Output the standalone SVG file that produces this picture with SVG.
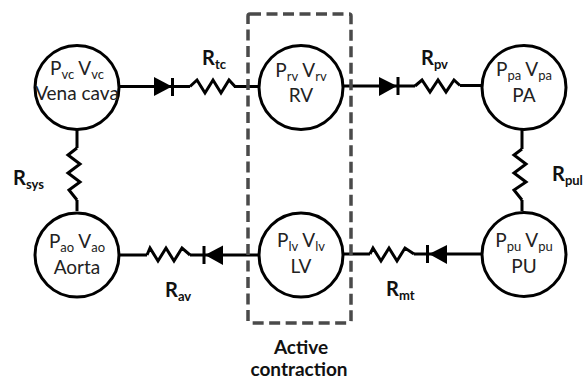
<svg xmlns="http://www.w3.org/2000/svg" width="585" height="381" viewBox="0 0 585 381">
<style>
.n{fill:#fff;stroke:#000;stroke-width:3}
.w{fill:none;stroke:#000;stroke-width:3}
.r{fill:none;stroke:#000;stroke-width:3}
.d{fill:#000}
.box{fill:none;stroke:#4a4a4a;stroke-width:3.500;stroke-dasharray:11 5.500}
text{font-family:Lato,"Open Sans",sans-serif;fill:#222}
.t{font-size:19px;text-anchor:middle}
.s{font-size:13px}
.b{font-size:20px;font-weight:700;fill:#111}
.bs{font-size:13px;font-weight:700;fill:#111}
.c{font-size:19px;font-weight:700;text-anchor:middle;fill:#111}
</style>
<g id="connectors">
<path class="w" d="M120 86.500H190M234 86.500H258"/>
<path class="d" d="M154 77L172 86.500L154 96Z"/><path class="w" d="M172.500 78V96"/>
<path class="r" d="M190 86.500L197 80L205 93L213 80L221 93L229 80L235 86.500"/>
<path class="w" d="M344 86H415M460 85.500H481"/>
<path class="d" d="M379 77L397 86L379 96Z"/><path class="w" d="M398 77V95"/>
<path class="r" d="M415 86L422 80L430 92L438 80L446 92L454 80L460 85.500"/>
<path class="w" d="M120 255H147M190 255H258"/>
<path class="d" d="M223 245.500L205 255L223 265Z"/><path class="w" d="M204 246V264"/>
<path class="r" d="M147 255L150 248L158 261L166 248L174 261L182 248L190 255"/>
<path class="w" d="M344 254H370M414 254H481"/>
<path class="d" d="M447 245L429 254L447 264Z"/><path class="w" d="M427.500 245V263"/>
<path class="r" d="M370 254L373 248L381 261L389 248L397 261L405 248L414 254"/>
<path class="w" d="M77 129V148M77 200V211"/>
<path class="r" d="M77 148L68 155L80 164L68 173L80 182L69 190L77 200"/>
<path class="w" d="M522 129V149M522 200V211"/>
<path class="r" d="M522 149L514 155L526 164L514 173L526 182L514 190L522 200"/>
</g>
<g id="active-contraction">
<rect class="box" x="248" y="14" width="103" height="309" rx="2"/>
<text class="c" x="301" y="354">Active</text>
<text class="c" x="299" y="376">contraction</text>
</g>
<g id="vena-cava"><circle class="n" cx="77" cy="87.500" r="42"/>
<text class="t" x="77" y="75">P<tspan class="s" dy="4">vc</tspan><tspan dy="-4"> V</tspan><tspan class="s" dy="4">vc</tspan></text>
<text class="t" x="77" y="100">Vena cava</text></g>
<g id="rv"><circle class="n" cx="301" cy="87.500" r="42"/>
<text class="t" x="301" y="77">P<tspan class="s" dy="4">rv</tspan><tspan dy="-4"> V</tspan><tspan class="s" dy="4">rv</tspan></text>
<text class="t" x="301" y="102">RV</text></g>
<g id="pa"><circle class="n" cx="524" cy="87.500" r="42"/>
<text class="t" x="524" y="76">P<tspan class="s" dy="4">pa</tspan><tspan dy="-4"> V</tspan><tspan class="s" dy="4">pa</tspan></text>
<text class="t" x="524" y="102">PA</text></g>
<g id="aorta"><circle class="n" cx="77" cy="255" r="42"/>
<text class="t" x="77" y="248">P<tspan class="s" dy="4">ao</tspan><tspan dy="-4"> V</tspan><tspan class="s" dy="4">ao</tspan></text>
<text class="t" x="77" y="274">Aorta</text></g>
<g id="lv"><circle class="n" cx="301" cy="255" r="42"/>
<text class="t" x="301" y="247">P<tspan class="s" dy="4">lv</tspan><tspan dy="-4"> V</tspan><tspan class="s" dy="4">lv</tspan></text>
<text class="t" x="301" y="273">LV</text></g>
<g id="pu"><circle class="n" cx="524" cy="254.500" r="42"/>
<text class="t" x="524" y="247">P<tspan class="s" dy="4">pu</tspan><tspan dy="-4"> V</tspan><tspan class="s" dy="4">pu</tspan></text>
<text class="t" x="524" y="273">PU</text></g>
<g id="labels">
<text class="b" x="202" y="65">R<tspan class="bs" dy="4">tc</tspan></text>
<text class="b" x="421" y="65">R<tspan class="bs" dy="4">pv</tspan></text>
<text class="b" x="13" y="185">R<tspan class="bs" dy="4">sys</tspan></text>
<text class="b" x="552" y="181">R<tspan class="bs" dy="4">pul</tspan></text>
<text class="b" x="165" y="297">R<tspan class="bs" dy="4">av</tspan></text>
<text class="b" x="386" y="296">R<tspan class="bs" dy="4">mt</tspan></text>
</g>
</svg>
